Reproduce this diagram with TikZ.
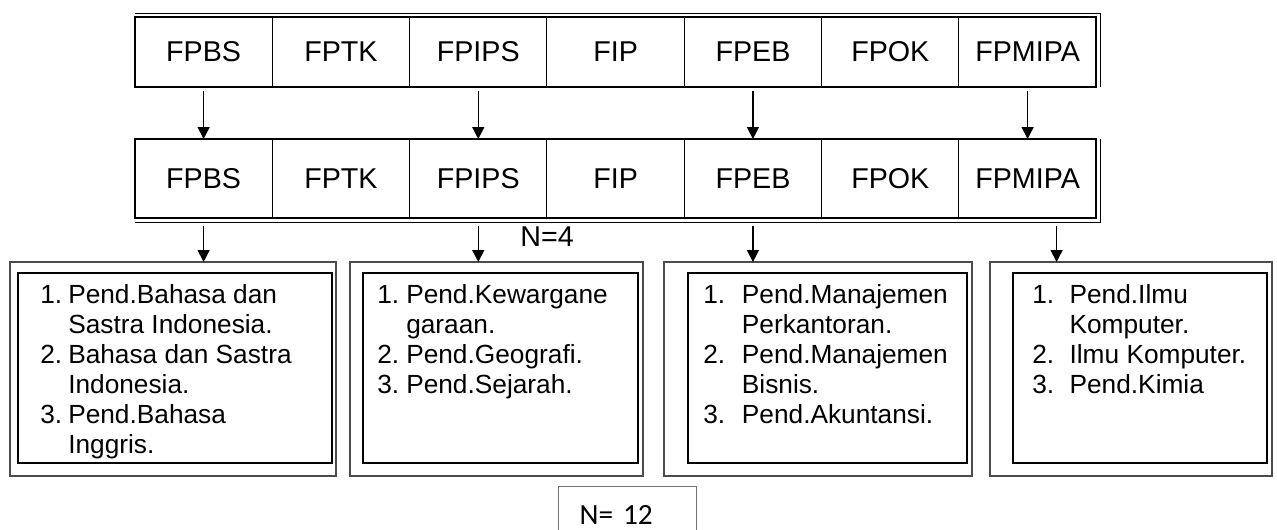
\documentclass[tikz,border=0pt]{standalone}
\usepackage{fontspec}
\setmainfont{Liberation Sans}
\newfontfamily\calibrifont{Carlito}
\usepackage{tikz}
\usetikzlibrary{arrows.meta,positioning}

\begin{document}
\begin{tikzpicture}[
    x=0.75pt, y=-0.75pt,
    cell/.style={draw, line width=0.75pt, minimum width=103pt, inner sep=0pt, outer sep=0pt, font=\fontsize{21.5}{25}\selectfont},
    toprow/.style={cell, minimum height=52.5pt},
    lowrow/.style={cell, minimum height=59.25pt},
    outerbox/.style={draw=black!70, line width=1pt, minimum height=160.5pt, inner sep=0pt, outer sep=0pt},
    innerbox/.style={draw, line width=1.5pt, minimum height=142.5pt, inner sep=0pt, outer sep=0pt},
    items/.style={anchor=base west, inner sep=0pt, font=\fontsize{19.7}{22.5}\selectfont},
    nbox/.style={draw=black!55, line width=0.75pt, minimum width=103.5pt, minimum height=33pt, inner sep=0pt, outer sep=0pt, text height=24pt, text depth=0pt, font=\calibrifont\fontsize{22}{26}\selectfont},
    arrow/.style={-{Triangle[width=9pt,length=9pt]}, line width=1.1pt, shorten <=3pt}
]
    \fill[white] (0,0) rectangle (1277,529);
    \useasboundingbox (0,0) rectangle (1277,529);

    \node[toprow] (a1) at (203.6,52) {FPBS};
    \node[toprow, right=0pt of a1] (a2) {FPTK};
    \node[toprow, right=0pt of a2] (a3) {FPIPS};
    \node[toprow, right=0pt of a3] (a4) {FIP};
    \node[toprow, right=0pt of a4] (a5) {FPEB};
    \node[toprow, right=0pt of a5] (a6) {FPOK};
    \node[toprow, right=0pt of a6] (a7) {FPMIPA};
    \draw[line width=1.5pt] (a1.north west) rectangle (a7.south east);
    \draw[line width=0.75pt] ([yshift=3pt]a1.north west) -| ([xshift=3pt]a7.south east);

    \node[lowrow] (b1) at (203.6,178.5) {FPBS};
    \node[lowrow, right=0pt of b1] (b2) {FPTK};
    \node[lowrow, right=0pt of b2] (b3) {FPIPS};
    \node[lowrow, right=0pt of b3] (b4) {FIP};
    \node[lowrow, right=0pt of b4] (b5) {FPEB};
    \node[lowrow, right=0pt of b5] (b6) {FPOK};
    \node[lowrow, right=0pt of b6] (b7) {FPMIPA};
    \draw[line width=1.5pt] (b1.north west) rectangle (b7.south east);
    \draw[line width=0.75pt] ([yshift=-3pt]b1.south west) -| ([xshift=3pt]b7.north east);

    \node[font=\fontsize{21.5}{25}\selectfont] (n4) at (547,237) {N=4};

    \node[outerbox, minimum width=244.5pt] (o1) at (173,369) {};
    \node[innerbox, minimum width=235.5pt] (p1) at (175,368) {};
    \node[outerbox, minimum width=219.75pt] (o2) at (496.5,369) {};
    \node[innerbox, minimum width=206.25pt] (p2) at (500.5,368) {};
    \node[outerbox, minimum width=231pt] (o3) at (818,369) {};
    \node[innerbox, minimum width=209.25pt] (p3) at (827.5,368) {};
    \node[outerbox, minimum width=211.5pt] (o4) at (1131,369) {};
    \node[innerbox, minimum width=190.5pt] (p4) at (1140,368) {};

    \node[items] (t1) at (40,303) {\begin{tabular}[t]{@{}p{21pt}@{}l@{}}
        1. & Pend.Bahasa dan\\ & Sastra Indonesia.\\
        2. & Bahasa dan Sastra\\ & Indonesia.\\
        3. & Pend.Bahasa\\ & Inggris.\end{tabular}};
    \node[items] (t2) at (377,303) {\begin{tabular}[t]{@{}p{21.75pt}@{}l@{}}
        1. & Pend.Kewargane\\ & garaan.\\
        2. & Pend.Geografi.\\
        3. & Pend.Sejarah.\end{tabular}};
    \node[items] (t3) at (703,303) {\begin{tabular}[t]{@{}p{29pt}@{}l@{}}
        1. & Pend.Manajemen\\ & Perkantoran.\\
        2. & Pend.Manajemen\\ & Bisnis.\\
        3. & Pend.Akuntansi.\end{tabular}};
    \node[items] (t4) at (1032,303) {\begin{tabular}[t]{@{}p{28pt}@{}l@{}}
        1. & Pend.Ilmu\\ & Komputer.\\
        2. & Ilmu Komputer.\\
        3. & Pend.Kimia\end{tabular}};

    \node[nbox, anchor=north west, text width=71pt, align=left, inner xsep=15.75pt] (n12) at (558,486) {N= 12};

    \draw[arrow] (a1) -- (b1);
    \draw[arrow] (a3) -- (b3);
    \draw[arrow] (a5) -- (b5);
    \draw[arrow] (a7) -- (b7);
    \draw[arrow] ([yshift=-3pt]b1.south) -- (b1.south |- o1.north);
    \draw[arrow] ([yshift=-3pt]b3.south) -- (b3.south |- o2.north);
    \draw[arrow] ([yshift=-3pt]b5.south) -- (b5.south |- o3.north);
    \draw[arrow] ([xshift=21.75pt,yshift=-3pt]b7.south) -- ([xshift=21.75pt]b7.south |- o4.north);
\end{tikzpicture}
\end{document}
